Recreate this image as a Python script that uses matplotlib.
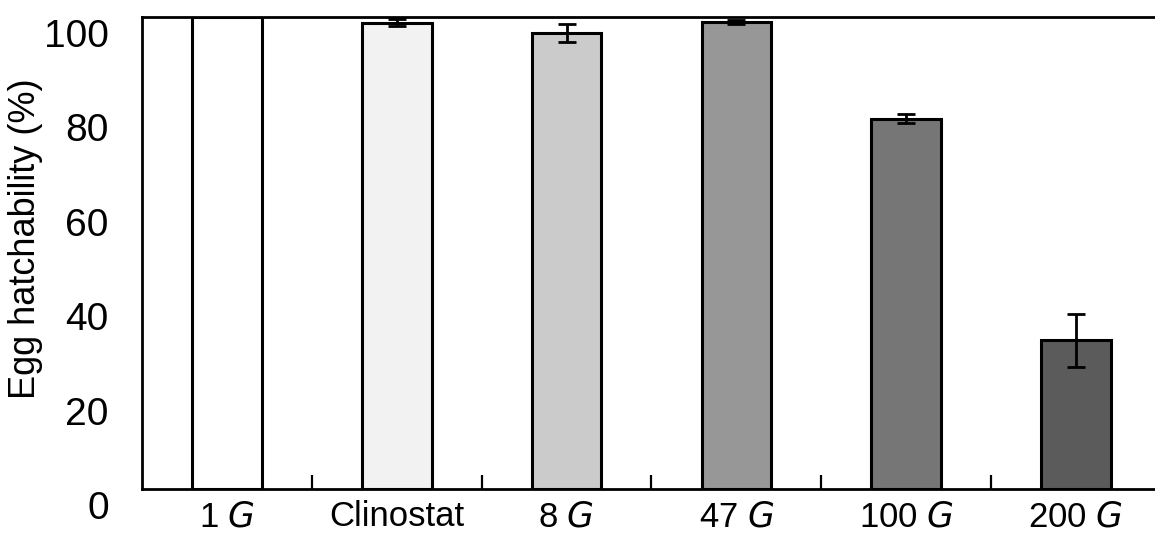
import numpy as np
import matplotlib
matplotlib.use("Agg")
from matplotlib import pyplot as plt
from matplotlib.transforms import ScaledTranslation

plt.rcParams['font.family'] = ['Liberation Sans', 'DejaVu Sans']

# groups and values
groups = ["1", "Clinostat", "8", "47", "100", "200"]
hatch_pct = [100.0, 98.8, 96.7, 98.9, 78.5, 31.5]
hatch_err = [0.0, 0.7, 1.9, 0.4, 1.0, 5.6]
bar_colors = ["#ffffff", "#f2f2f2", "#cbcbcb", "#979797", "#767676", "#5b5b5b"]

xlabels = [g if g == "Clinostat" else g + r" $\it{G}$" for g in groups]

fig = plt.figure(figsize=(11.55, 5.34), dpi=100)
ax = fig.add_axes([0.123, 0.084, 0.882, 0.884])

xx = np.arange(len(groups))
ax.bar(xx, hatch_pct, width=0.41, color=bar_colors, edgecolor='black', linewidth=2.2, zorder=2)
# only draw error bars where there is one
has_err = np.array(hatch_err) > 0
ax.errorbar(xx[has_err], np.array(hatch_pct)[has_err], yerr=np.array(hatch_err)[has_err],
            fmt='none', ecolor='black', elinewidth=2, capsize=6.5, capthick=2, zorder=3)

ax.set_xlim(-0.5, len(groups) - 0.5)
ax.set_ylim(0, 100)
ax.set_yticks([0, 20, 40, 60, 80, 100])
ax.set_xticks(xx)
ax.set_xticklabels(xlabels, fontsize=25)
ax.set_xticks(xx[:-1] + 0.5, minor=True)
ax.tick_params(axis='x', which='major', length=0, pad=8)
ax.tick_params(axis='x', which='minor', direction='in', length=10, width=1.6)
ax.tick_params(axis='y', length=0, pad=24, labelsize=28)

# y numbers sit a bit below their level in the original
shift = ScaledTranslation(0, -11.5 / 72, fig.dpi_scale_trans)
for lab in ax.get_yticklabels():
    lab.set_transform(lab.get_transform() + shift)

ax.set_ylabel("Egg hatchability (%)", fontsize=26)
ax.yaxis.set_label_coords(-0.097, 0.53)

for side in ['left', 'bottom', 'top']:
    ax.spines[side].set_linewidth(2)
ax.spines['right'].set_visible(False)

fig.savefig("out.png", dpi=100)
